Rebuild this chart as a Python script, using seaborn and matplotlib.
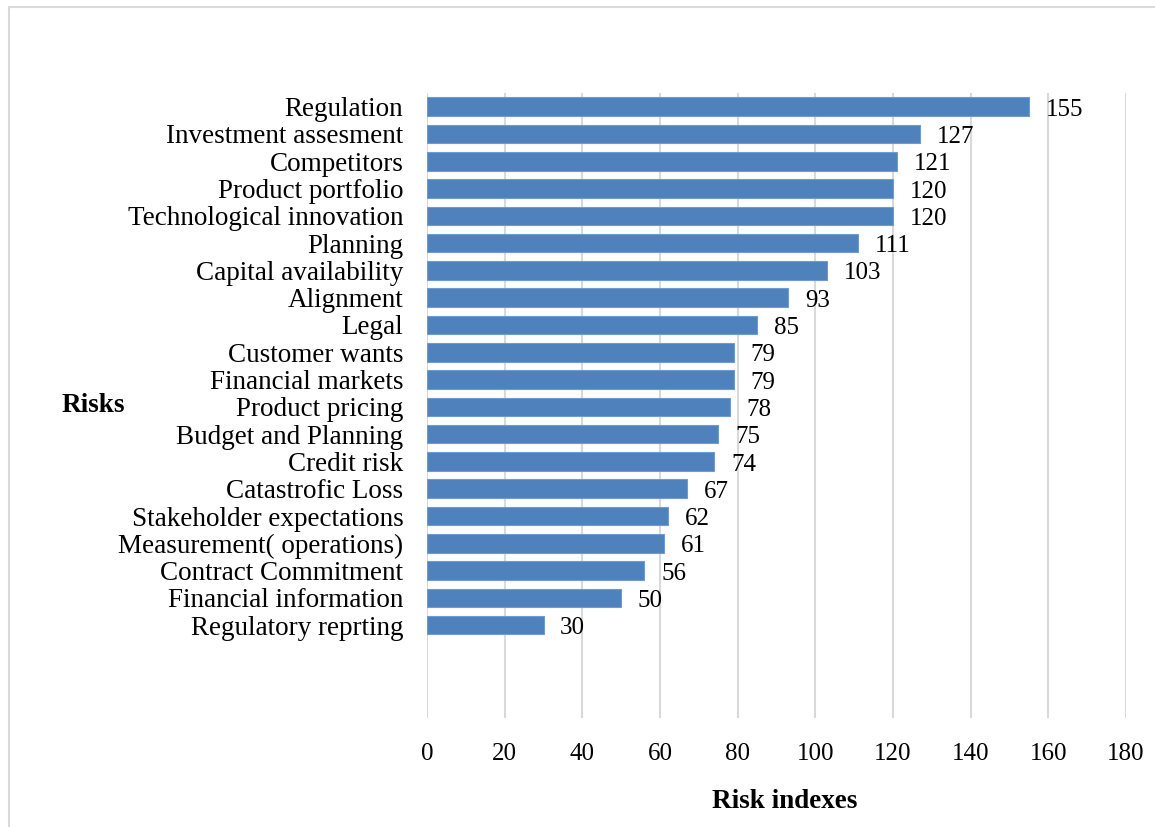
import matplotlib
matplotlib.use("Agg")
import matplotlib.pyplot as plt
from matplotlib.lines import Line2D
import pandas as pd
import seaborn as sns

risks = ["Regulation", "Investment assesment", "Competitors", "Product portfolio",
         "Technological innovation", "Planning", "Capital availability", "Alignment",
         "Legal", "Customer wants", "Financial markets", "Product pricing",
         "Budget and Planning", "Credit risk", "Catastrofic Loss",
         "Stakeholder expectations", "Measurement( operations)", "Contract Commitment",
         "Financial information", "Regulatory reprting"]
indexes = [155, 127, 121, 120, 120, 111, 103, 93, 85, 79, 79, 78, 75, 74, 67, 62, 61, 56, 50, 30]
x_ticks = [0, 20, 40, 60, 80, 100, 120, 140, 160, 180]

df = pd.DataFrame({"risk": risks, "index": indexes})

sns.set_style("white")
plt.rcParams['font.family'] = ['Liberation Serif', 'DejaVu Serif']
plt.rcParams.update({"text.color": "black", "xtick.color": "black",
                     "ytick.color": "black", "axes.labelcolor": "black"})

fig = plt.figure(figsize=(11.55, 8.27), dpi=100)
ax = fig.add_axes([427 / 1155, 1 - 718 / 827, 699 / 1155, 625 / 827])

sns.barplot(data=df, x="index", y="risk", color="#4F81BD", saturation=1,
            width=0.68, edgecolor="#6f9bd3", linewidth=0.8, ax=ax, zorder=3)

for c in ax.containers:
    texts = ax.bar_label(c, labels=[str(v) for v in indexes], padding=12,
                         fontsize=18, color="black")
    for t in texts:
        # nudge labels down a little, like the original
        t.xyann = (t.xyann[0], t.xyann[1] - 2.2)

ax.set_xlim(0, 180)
ax.set_ylim(22.4, -0.5)
ax.set_xticks(x_ticks)
ax.set_xticklabels([str(t) for t in x_ticks])
ax.xaxis.grid(True, color="#d9d9d9", linewidth=1.5, zorder=0)
ax.set_axisbelow(True)
for s in ax.spines.values():
    s.set_visible(False)
ax.tick_params(axis="y", length=0, pad=17, labelsize=19.5, labelcolor="black")
ax.tick_params(axis="x", length=0, pad=18, labelsize=18, labelcolor="black")
ax.set_xlabel("")
ax.set_ylabel("")

fig.text(93 / 1155, 1 - 406 / 827, "Risks", fontsize=19.5, fontweight="bold",
         ha="center", va="center", color="black")
fig.text(785 / 1155, 1 - 801 / 827, "Risk indexes", fontsize=19.5, fontweight="bold",
         ha="center", va="center", color="black")

# light frame (top and left edges)
fig.add_artist(Line2D([9 / 1155, 1], [1 - 7 / 827, 1 - 7 / 827], color="#d9d9d9",
                      linewidth=1.5, transform=fig.transFigure))
fig.add_artist(Line2D([9 / 1155, 9 / 1155], [0, 1 - 7 / 827], color="#d9d9d9",
                      linewidth=1.5, transform=fig.transFigure))

fig.savefig("out.png", dpi=100)
